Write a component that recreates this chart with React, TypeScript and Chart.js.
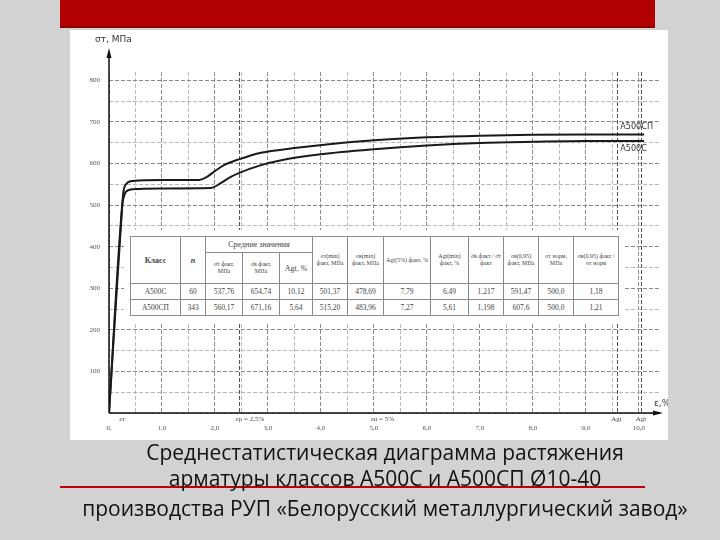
import React, { useEffect, useRef } from "react";
import { Chart, registerables } from "chart.js";
Chart.register(...registerables);

// Strain (%) and stress (MPa)
const strainA500SP = [0, 0.25, 0.27, 0.32, 0.45, 1.0, 1.67, 1.85, 2.0, 2.17, 2.45, 2.87, 3.5, 4.2, 5.0, 6.0, 7.0, 8.0, 9.0, 10.1];
const stressA500SP = [0, 500, 530, 550, 558, 560, 560, 568, 582, 596, 610, 626, 637, 647, 656, 663, 667, 669, 670, 670];
const strainA500C = [0, 0.25, 0.27, 0.32, 0.45, 1.0, 1.92, 2.1, 2.3, 2.45, 2.87, 3.25, 4.0, 5.0, 6.0, 7.0, 8.0, 9.0, 10.1];
const stressA500C = [0, 500, 515, 532, 538, 540, 541, 552, 568, 577, 596, 608, 622, 634, 643, 649, 652, 654, 654];

const seriesNames = ["A500СП", "A500С"];
const xMarks = [
  { v: 0.25, t: "εт" },
  { v: 2.45, t: "εр = 2,5%" },
  { v: 5.0, t: "εu = 5%" },
  { v: 9.58, t: "Agt" },
  { v: 10.04, t: "Agt" },
];
const dashedMarks = [2.45, 9.58, 10.04];

const tableHead1 = ["Класс", "n", "Средние значения"];
const tableHeadSub = ["σ̄т факт, МПа", "σ̄в факт, МПа", "Agt, %"];
const tableHeadRest = [
  "σт(min) факт, МПа",
  "σв(min) факт, МПа",
  "Agt(5%) факт, %",
  "Agt(min) факт, %",
  "σ̄в факт / σ̄т факт",
  "σв(0,95) факт, МПа",
  "σт норм, МПа",
  "σв(0,95) факт / σт норм",
];
const rowA500C = ["А500С", "60", "537,76", "654,74", "10,12", "501,37", "478,69", "7,79", "6,49", "1,217", "591,47", "500,0", "1,18"];
const rowA500SP = ["А500СП", "343", "560,17", "671,16", "5,64", "515,20", "483,96", "7,27", "5,61", "1,198", "607,6", "500,0", "1,21"];
const colWidths = [50, 25, 37, 37, 33, 35, 36, 47, 38, 35, 35, 35, 45];

const titleLines = [
  "Среднестатистическая диаграмма растяжения",
  "арматуры классов А500С и А500СП Ø10-40",
  "производства РУП «Белорусский металлургический завод»",
];

const decor = {
  id: "decor",
  beforeDatasetsDraw(chart: any) {
    const { ctx, chartArea: a, scales } = chart;
    const x = scales.x;
    ctx.save();
    ctx.strokeStyle = "#555";
    ctx.lineWidth = 1;
    ctx.setLineDash([4, 2]);
    dashedMarks.forEach((v) => {
      const px = Math.round(x.getPixelForValue(v)) + 0.5;
      ctx.beginPath();
      ctx.moveTo(px, a.top);
      ctx.lineTo(px, a.bottom);
      ctx.stroke();
    });
    ctx.restore();
  },
  afterDraw(chart: any) {
    const { ctx, chartArea: a, scales } = chart;
    const x = scales.x;
    const y = scales.y;
    ctx.save();
    ctx.strokeStyle = "#111";
    ctx.fillStyle = "#111";
    ctx.lineWidth = 1.5;
    ctx.beginPath();
    ctx.moveTo(a.left, a.bottom);
    ctx.lineTo(a.left, a.top - 20);
    ctx.stroke();
    ctx.beginPath();
    ctx.moveTo(a.left, a.top - 24);
    ctx.lineTo(a.left - 2.5, a.top - 14);
    ctx.lineTo(a.left + 2.5, a.top - 14);
    ctx.closePath();
    ctx.fill();
    ctx.beginPath();
    ctx.moveTo(a.left, a.bottom);
    ctx.lineTo(a.right, a.bottom);
    ctx.stroke();
    ctx.beginPath();
    ctx.moveTo(a.right + 3, a.bottom);
    ctx.lineTo(a.right - 7, a.bottom - 2.5);
    ctx.lineTo(a.right - 7, a.bottom + 2.5);
    ctx.closePath();
    ctx.fill();
    ctx.font = "9px 'DejaVu Sans'";
    ctx.fillStyle = "#333";
    ctx.textAlign = "left";
    ctx.textBaseline = "middle";
    ctx.fillText("σт, МПа", a.left - 14, a.top - 32);
    ctx.fillText("ε,%", a.right - 6, a.bottom - 9);
    ctx.font = "7px 'Liberation Serif'";
    ctx.fillStyle = "#444";
    ctx.textBaseline = "top";
    xMarks.forEach((m) => {
      const px = x.getPixelForValue(m.v);
      ctx.textAlign = m.t.length > 3 ? "left" : "center";
      ctx.fillText(m.t, m.t.length > 3 ? px - 3 : px, a.bottom + 3);
    });
    const up = y.getPixelForValue(stressA500SP[stressA500SP.length - 1]);
    const lo = y.getPixelForValue(stressA500C[stressA500C.length - 1]);
    const lx = x.getPixelForValue(9.65);
    ctx.font = "9px 'DejaVu Sans Condensed'";
    ctx.fillStyle = "#333";
    ctx.textAlign = "left";
    ctx.textBaseline = "middle";
    ctx.fillText(seriesNames[0], lx, up - 8);
    ctx.fillText(seriesNames[1], lx, lo + 8);
    ctx.restore();
  },
};

function StressChart() {
  const ref = useRef<HTMLCanvasElement>(null);
  useEffect(() => {
    if (!ref.current) return;
    const mk = (xs: number[], ys: number[]) => xs.map((v, i) => ({ x: v, y: ys[i] }));
    const chart = new Chart(ref.current, {
      type: "scatter",
      data: {
        datasets: [
          {
            label: seriesNames[0],
            data: mk(strainA500SP, stressA500SP),
            showLine: true,
            borderColor: "#1a1a1a",
            borderWidth: 2,
            pointRadius: 0,
            cubicInterpolationMode: "monotone",
          },
          {
            label: seriesNames[1],
            data: mk(strainA500C, stressA500C),
            showLine: true,
            borderColor: "#1a1a1a",
            borderWidth: 2,
            pointRadius: 0,
            cubicInterpolationMode: "monotone",
          },
        ],
      },
      options: {
        responsive: false,
        animation: false,
        devicePixelRatio: 1,
        layout: { padding: { top: 42, right: 8, left: 0, bottom: 0 } },
        plugins: { legend: { display: false }, tooltip: { enabled: false } },
        scales: {
          x: {
            type: "linear",
            min: 0,
            max: 10.4,
            afterFit: (s: any) => {
              s.height = 27;
            },
            ticks: {
              stepSize: 0.5,
              includeBounds: false,
              autoSkip: false,
              maxRotation: 0,
              padding: 11,
              color: "#555",
              font: { family: "'Liberation Serif'", size: 7 },
              callback: (v: any) => {
                const n = Number(v);
                if (n > 10.2) return null;
                if (Math.abs(n - Math.round(n)) < 1e-6) return n === 0 ? "0," : n.toFixed(1).replace(".", ",");
                return "";
              },
            },
            grid: {
              drawTicks: false,
              color: (c: any) => {
                const v = c.tick ? c.tick.value : 0;
                return Math.abs(v - Math.round(v)) < 1e-6 ? "#8a8a8a" : "#b8b8b8";
              },
              lineWidth: 1,
            },
            border: { display: false, dash: [4, 2] },
          },
          y: {
            min: 0,
            max: 820,
            afterFit: (s: any) => {
              s.width = 39;
            },
            ticks: {
              stepSize: 50,
              includeBounds: false,
              padding: 9,
              color: "#555",
              font: { family: "'Liberation Serif'", size: 7 },
              callback: (v: any) => {
                const n = Number(v);
                if (n > 810) return null;
                return n % 100 === 0 && n > 0 ? String(n) : "";
              },
            },
            grid: {
              drawTicks: false,
              color: (c: any) => {
                const v = c.tick ? c.tick.value : 0;
                return v % 100 === 0 ? "#8a8a8a" : "#b8b8b8";
              },
              lineWidth: 1,
            },
            border: { display: false, dash: [4, 2] },
          },
        },
      },
      plugins: [decor],
    });
    return () => chart.destroy();
  }, []);
  return <canvas ref={ref} width={598} height={410} style={{ display: "block" }} />;
}

const cell: React.CSSProperties = {
  border: "1px solid #8a8a8a",
  padding: "0 1px",
  textAlign: "center",
  verticalAlign: "middle",
  color: "#444",
  overflow: "hidden",
};

function DataTable() {
  return (
    <div style={{ position: "absolute", left: 124, top: 230, width: 500, height: 92, background: "#fff" }}>
      <table
        style={{
          position: "absolute",
          left: 6,
          top: 6,
          borderCollapse: "collapse",
          tableLayout: "fixed",
          width: 488,
          fontFamily: "'Liberation Serif', serif",
          fontSize: 6,
          lineHeight: "7px",
        }}
      >
        <colgroup>
          {colWidths.map((w, i) => (
            <col key={i} style={{ width: w }} />
          ))}
        </colgroup>
        <tbody>
          <tr style={{ height: 16 }}>
            <td rowSpan={2} style={{ ...cell, fontWeight: "bold", fontSize: 8 }}>{tableHead1[0]}</td>
            <td rowSpan={2} style={{ ...cell, fontWeight: "bold", fontStyle: "italic", fontSize: 8 }}>{tableHead1[1]}</td>
            <td colSpan={3} style={{ ...cell, fontSize: 8 }}>{tableHead1[2]}</td>
            {tableHeadRest.map((t, i) => (
              <td key={i} rowSpan={2} style={cell}>{t}</td>
            ))}
          </tr>
          <tr style={{ height: 31 }}>
            {tableHeadSub.map((t, i) => (
              <td key={i} style={{ ...cell, fontSize: i === 2 ? 8 : 6 }}>{t}</td>
            ))}
          </tr>
          {[rowA500C, rowA500SP].map((r, ri) => (
            <tr key={ri} style={{ height: 16 }}>
              {r.map((t, i) => (
                <td key={i} style={{ ...cell, fontSize: 7.5 }}>{t}</td>
              ))}
            </tr>
          ))}
        </tbody>
      </table>
    </div>
  );
}

export default function App() {
  return (
    <div style={{ position: "fixed", left: 0, top: 0, width: 720, height: 540, background: "#d2d2d2", overflow: "hidden" }}>
      <div style={{ position: "absolute", left: 60, top: 0, width: 595, height: 26, background: "#b10000", borderBottom: "2px solid #8e0000" }} />
      <div style={{ position: "absolute", left: 70, top: 30, width: 598, height: 410, background: "#fff" }}>
        <StressChart />
      </div>
      <DataTable />
      <div style={{ position: "absolute", left: 60, top: 486, width: 585, height: 2, background: "#c00000" }} />
      {titleLines.map((t, i) => (
        <div
          key={i}
          style={{
            position: "absolute",
            left: 0,
            width: 770,
            top: [438, 464, 494][i],
            textAlign: "center",
            fontFamily: "'Open Sans', sans-serif",
            fontSize: 21,
            lineHeight: "28px",
            color: "#111",
            whiteSpace: "nowrap",
          }}
        >
          {t}
        </div>
      ))}
    </div>
  );
}
